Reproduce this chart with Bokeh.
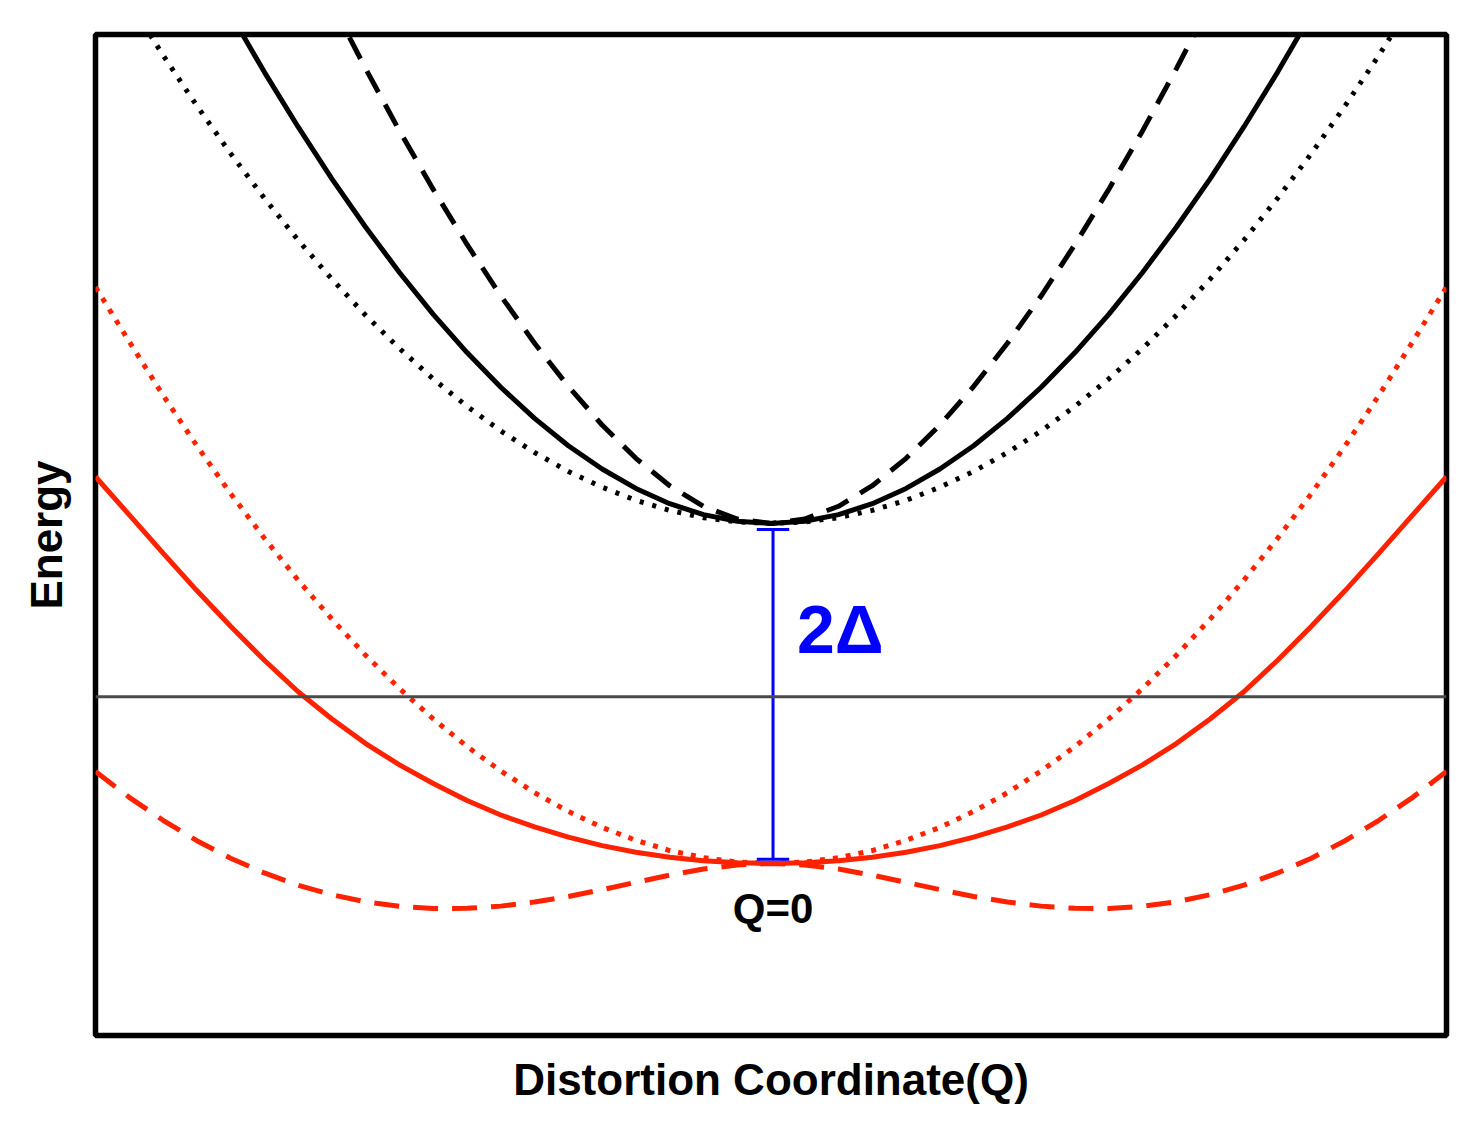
from bokeh.plotting import figure
from bokeh.models import Range1d, FixedTicker, Span
from bokeh.core.properties import value
from bokeh.embed import file_html
from bokeh.resources import INLINE

# Distortion coordinate Q (plot spans -1 .. 1)
q_full = [-1.00, -0.95, -0.90, -0.85, -0.80, -0.75, -0.70, -0.65, -0.60, -0.55,
          -0.50, -0.45, -0.40, -0.35, -0.30, -0.25, -0.20, -0.15, -0.10, -0.05,
          0.00, 0.05, 0.10, 0.15, 0.20, 0.25, 0.30, 0.35, 0.40, 0.45,
          0.50, 0.55, 0.60, 0.65, 0.70, 0.75, 0.80, 0.85, 0.90, 0.95, 1.00]

# Lower (red) branches, energy in units of Delta
red_solid = [1.275, 1.050, 0.825, 0.605, 0.395, 0.195, 0.010, -0.150, -0.295, -0.420,
             -0.530, -0.630, -0.715, -0.785, -0.845, -0.895, -0.934, -0.963, -0.984, -0.996,
             -1.000, -0.996, -0.984, -0.963, -0.934, -0.895, -0.845, -0.785, -0.715, -0.630,
             -0.530, -0.420, -0.295, -0.150, 0.010, 0.195, 0.395, 0.605, 0.825, 1.050, 1.275]
red_dotted = [2.390, 2.069, 1.754, 1.457, 1.176, 0.913, 0.666, 0.437, 0.224, 0.029,
              -0.150, -0.312, -0.456, -0.584, -0.694, -0.788, -0.864, -0.924, -0.966, -0.992,
              -1.000, -0.992, -0.966, -0.924, -0.864, -0.788, -0.694, -0.584, -0.456, -0.312,
              -0.150, 0.029, 0.224, 0.437, 0.666, 0.913, 1.176, 1.457, 1.754, 2.069, 2.390]
red_dashed = [-0.459, -0.611, -0.746, -0.866, -0.969, -1.056, -1.128, -1.184, -1.226, -1.252,
              -1.265, -1.264, -1.251, -1.227, -1.194, -1.154, -1.111, -1.069, -1.033, -1.009,
              -1.000, -1.009, -1.033, -1.069, -1.111, -1.154, -1.194, -1.227, -1.251, -1.264,
              -1.265, -1.252, -1.226, -1.184, -1.128, -1.056, -0.969, -0.866, -0.746, -0.611, -0.459]

# Upper (black) branches
q_black_solid = q_full[4:37]      # -0.80 .. 0.80
black_solid = [3.997, 3.655, 3.332, 3.027, 2.742, 2.476, 2.230, 2.005, 1.801, 1.618,
               1.457, 1.320, 1.206, 1.116, 1.052, 1.013, 1.000, 1.013, 1.052, 1.116,
               1.206, 1.320, 1.457, 1.618, 1.801, 2.005, 2.230, 2.476, 2.742, 3.027,
               3.332, 3.655, 3.997]
q_black_dashed = q_full[7:34]     # -0.65 .. 0.65
black_dashed = [4.057, 3.674, 3.309, 2.965, 2.641, 2.339, 2.060, 1.806, 1.579, 1.383,
                1.222, 1.101, 1.026, 1.000, 1.026, 1.101, 1.222, 1.383, 1.579, 1.806,
                2.060, 2.339, 2.641, 2.965, 3.309, 3.674, 4.057]
q_black_dotted = q_full[1:40]     # -0.95 .. 0.95
black_dotted = [4.069, 3.754, 3.457, 3.176, 2.913, 2.666, 2.437, 2.224, 2.029, 1.850,
                1.689, 1.544, 1.417, 1.306, 1.213, 1.136, 1.077, 1.034, 1.009, 1.000,
                1.009, 1.034, 1.077, 1.136, 1.213, 1.306, 1.417, 1.544, 1.689, 1.850,
                2.029, 2.224, 2.437, 2.666, 2.913, 3.176, 3.457, 3.754, 4.069]

# Reference (zero) level and gap marker
zero_level = -0.02
gap_x = 0.003
gap_top = 0.965
gap_bottom = -0.976
cap_half = 0.024

gap_label = "2Δ"
gap_label_x = 0.0385
gap_label_y = 0.382
q0_label = "Q=0"
q0_label_x = 0.003
q0_label_y = -1.265

x_title = "Distortion Coordinate(Q)"
y_title = "Energy"

RED = "#ff2200"
FONT = "Liberation Sans"

p = figure(width=1465, height=1116, output_backend="svg", toolbar_location=None,
           x_range=Range1d(-1.0, 1.0), y_range=Range1d(-2.012, 3.876),
           min_border_left=95, min_border_right=19, min_border_top=34, min_border_bottom=81)
p.grid.visible = False
p.background_fill_color = "white"
p.border_fill_color = "white"
p.outline_line_color = "black"
p.outline_line_width = 5.5

for ax in (p.xaxis[0], p.yaxis[0]):
    ax.ticker = FixedTicker(ticks=[])
    ax.axis_line_color = None
    ax.major_tick_line_color = None
    ax.minor_tick_line_color = None
    ax.major_label_text_font_size = "0px"
    ax.axis_label_text_font = FONT
    ax.axis_label_text_font_style = "bold"
    ax.axis_label_text_font_size = "44px"
    ax.axis_label_text_color = "black"

p.xaxis.axis_label = x_title
p.xaxis.axis_label_standoff = 19
p.yaxis.axis_label = y_title
p.yaxis.axis_label_standoff = 25

p.add_layout(Span(location=zero_level, dimension="width", line_color="#4a4a4a", line_width=3))

# black (upper) curves
p.line(q_black_dotted, black_dotted, line_color="black", line_width=5, line_dash="4 9")
p.line(q_black_dashed, black_dashed, line_color="black", line_width=5, line_dash="24 14")
p.line(q_black_solid, black_solid, line_color="black", line_width=5)

# red (lower) curves
p.line(q_full, red_dotted, line_color=RED, line_width=5, line_dash="5 8")
p.line(q_full, red_dashed, line_color=RED, line_width=5, line_dash="25 14")
p.line(q_full, red_solid, line_color=RED, line_width=5)

# gap marker
p.segment(x0=[gap_x], y0=[gap_bottom], x1=[gap_x], y1=[gap_top], line_color="#0000ff", line_width=3)
p.segment(x0=[gap_x - cap_half, gap_x - cap_half], y0=[gap_top, gap_bottom],
          x1=[gap_x + cap_half, gap_x + cap_half], y1=[gap_top, gap_bottom],
          line_color="#0000ff", line_width=3)

p.text(x=[gap_label_x], y=[gap_label_y], text=[gap_label], text_color="#0000ff",
       text_font=value(FONT), text_font_style="bold", text_font_size="68px",
       text_align="left", text_baseline="alphabetic")
p.text(x=[q0_label_x], y=[q0_label_y], text=[q0_label], text_color="black",
       text_font=value(FONT), text_font_style="bold", text_font_size="42px",
       text_align="center", text_baseline="alphabetic")

open("out.html", "w").write(file_html(p, INLINE))
